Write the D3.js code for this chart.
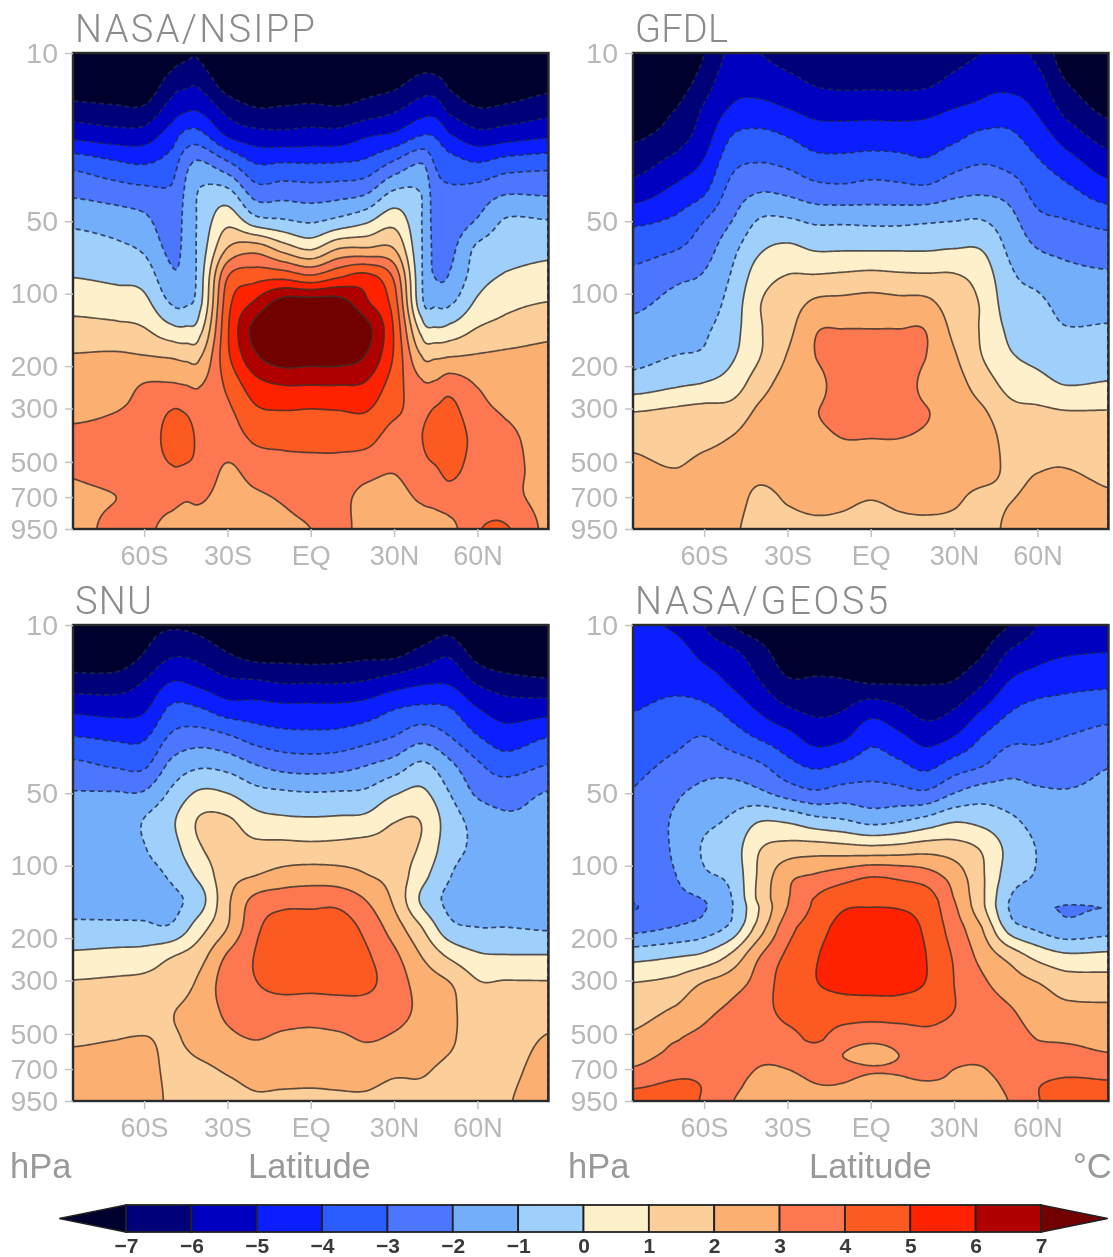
<!DOCTYPE html>
<html><head><meta charset="utf-8">
<script src="https://cdn.jsdelivr.net/npm/d3@7"></script>
<style>
html,body{margin:0;padding:0;background:#fff;overflow:hidden}
svg{display:block;font-family:"Liberation Sans",Arial,sans-serif;filter:blur(.7px)}
</style></head><body><div id="chart"></div>
<script>
// Temperature-change cross sections (degrees C).
// Each inner list is one latitude column, top (10 hPa) to bottom (950 hPa).
const latColumns=[-85.6,-70,-60,-50,-40,-30,-20,-10,0,10,20,30,40,50,60,70,85.6];
const nsippLats=[-85.6,-70,-60,-50,-45,-40,-30,-20,-10,0,10,20,30,40,45,50,60,70,85.6];
const pressureRows=[10,13,17,22,29,38,50,65,85,110,140,180,240,310,400,530,700,950];
const geosRows=[10,13,17,22,29,38,50,65,85,110,135,151,180,240,310,400,530,606,700,823,950];

const nsippValues=[
[-9,-8,-6.64,-5.28,-3.3,-2.2,-1.2,-.57,-.02,.67,1.34,2.04,2.44,2.8,3.2,3.1,2.8,2.6],
[-8.8,-7.9,-6.85,-5.55,-3.8,-2.5,-1.45,-.8,-.2,.5,1.25,2.1,2.55,3,3.3,3.4,3,3.3],
[-8.7,-8,-6.85,-5.5,-4,-2.7,-1.75,-1.15,-.4,.3,1.05,2,3.05,3.3,3.5,3.5,3.35,3.2],
[-7.6,-6.6,-5.6,-4.5,-3.5,-2.85,-2.6,-2.25,-1.8,-1.05,.25,1.85,3.1,4.05,4.3,3.95,3.3,2.7],
[-7.2,-6.3,-5.2,-3.7,-2.3,-1.85,-1.7,-1.7,-1.6,-1.1,.15,1.7,3,3.95,4.4,3.9,3.1,2.55],
[-7.2,-6.3,-5.2,-3.7,-1.8,-.9,-.75,-.6,-.45,-.25,.65,1.85,2.95,3.5,3.75,3.7,3.15,2.5],
[-8.8,-7.7,-6.35,-5.1,-2.75,-.7,.7,2.05,3.95,4.6,4.85,4.8,4.2,3.8,3.5,2.9,2.6,2.3],
[-8.6,-7.9,-6.95,-5.6,-3.95,-2.45,-.55,2.6,4.6,6.2,7.35,6.85,5.6,4.8,4.15,3.45,2.85,2.6],
[-8.7,-7.9,-6.9,-5.7,-3.9,-2.4,-.85,1.6,4.7,7.5,8,7.6,6,4.95,4.25,3.65,3.1,2.8],
[-8.8,-7.9,-6.8,-5.6,-3.95,-2.5,-1.1,.9,4.2,7.6,8,7.5,6,4.9,4.3,3.7,3.35,3],
[-8.7,-7.9,-6.9,-5.6,-3.9,-2.4,-.7,2,4.9,7.5,8,7.5,6,4.95,4.3,3.7,3.3,3.4],
[-8.6,-7.6,-6.6,-5.1,-3.7,-2.1,-.15,2.1,5.3,6.2,7.35,6.95,5.85,5,4.3,3.4,2.7,2.5],
[-8.4,-7.4,-6.2,-4.8,-2.75,-.85,.65,2,3.8,4.5,4.9,4.9,4.5,4.15,3.6,3.1,2.65,2.5],
[-7.8,-6.7,-5.5,-4,-1.95,-1.05,-1,-.95,-.9,-.7,.6,1.95,3.2,3.8,3.98,3.7,3.15,2.5],
[-7.9,-6.75,-5.5,-4.1,-3.1,-2.6,-2.4,-2.25,-2.05,-1.15,.1,1.8,3.2,4.15,4.45,3.95,3.3,2.6],
[-8,-7.3,-6.3,-4.9,-3.5,-2.85,-2.55,-2.25,-1.9,-1.1,.3,1.9,3.6,4.3,4.5,4.25,3.6,2.7],
[-8.7,-8,-6.95,-5.65,-3.9,-2.6,-1.9,-.8,-.45,.2,1.05,2.05,2.95,3.35,3.7,3.6,3.4,3.9],
[-8.7,-7.9,-6.8,-5.45,-3.5,-2.1,-.9,-.45,.1,.75,1.35,2.15,2.5,2.9,3.25,3.35,3.3,4.1],
[-8.6,-7.5,-6.4,-5.15,-3.3,-2.15,-.95,-.25,.35,1.05,1.7,2.25,2.4,2.5,2.55,2.6,2.65,2.75]];

const gfdlValues=[
[-9.5,-8.6,-7.9,-7.2,-6.4,-5.5,-4.2,-3.4,-2.75,-2.2,-1.75,-1.35,-.5,1,1.75,2.2,2.4,2.6],
[-8.8,-7.8,-7,-6.5,-5.6,-4.7,-3.8,-3.05,-2.2,-1.7,-1.4,-1,-.1,1.2,1.55,2,2.4,2.6],
[-7,-6.5,-5.9,-5.5,-4.85,-4.1,-3,-2.45,-1.9,-1.5,-1.15,-.85,.1,1.35,1.75,2.3,2.5,2.7],
[-5.8,-5.4,-4.9,-4,-3.25,-2.6,-2,-1.3,-.9,-.6,-.4,-.15,.5,1.4,2.05,2.4,2.4,2.2],
[-6,-5.4,-4.75,-3.75,-2.95,-2,-.9,-.15,.55,.95,.9,.95,1.6,2.2,2.5,2.3,1.8,1.6],
[-6.4,-5.75,-5,-4.05,-3.15,-2.15,-.85,.2,1.05,1.45,1.7,2.05,2.4,2.6,2.65,2.5,2.1,1.75],
[-6.7,-6.15,-5.35,-4.5,-3.6,-2.55,-1.15,-.1,1.1,2.2,2.9,3,2.66,2.95,2.75,2.55,2.25,1.85],
[-6.9,-6.3,-5.4,-4.55,-3.65,-2.65,-1.15,-.1,1.2,2.3,3,3.4,3.5,3.35,3,2.6,2.2,1.8],
[-6.9,-6.3,-5.35,-4.55,-3.5,-2.55,-1.2,-.1,1.3,2.4,3,3.5,3.6,3.4,3,2.6,2.05,1.6],
[-6.9,-6.3,-5.4,-4.55,-3.6,-2.6,-1.2,-.1,1.2,2.3,3,3.5,3.6,3.4,3,2.6,2.2,1.8],
[-6.85,-6.25,-5.3,-4.55,-3.8,-2.65,-1.1,-.1,1.15,2.25,2.95,3,2.72,3.05,2.85,2.6,2.25,1.85],
[-6.45,-5.75,-5,-4.25,-3.3,-2.25,-1,0,1.1,1.45,1.75,2.1,2.4,2.6,2.6,2.5,2.15,1.8],
[-6,-5.3,-4.8,-3.8,-3,-2.1,-.95,-.05,.6,.9,.9,1,1.55,2.15,2.5,2.4,1.8,1.6],
[-5.8,-5.35,-4.55,-3.85,-3.25,-2.35,-1.65,-1.2,-.8,-.55,-.2,.1,.7,1.3,1.65,1.85,1.95,2.2],
[-6.2,-5.7,-5.15,-4.5,-3.85,-3.35,-2.7,-2,-1.3,-.8,-.55,-.25,.35,1.2,1.6,1.95,2.2,2.4],
[-7.6,-7,-6.3,-5.45,-4.5,-3.7,-2.95,-2.25,-1.7,-1.3,-.95,-.5,0,1.05,1.55,2,2.4,2.4],
[-8.6,-7.9,-7.3,-6.45,-5.5,-4.5,-3.3,-2.5,-1.85,-1.35,-.9,-.45,.1,1.05,1.35,1.7,2.1,2.1]];

const snuValues=[
[-8.5,-7.8,-6.65,-5.3,-4,-2.8,-1.95,-1.75,-1.55,-1.35,-1.15,-.85,.25,1.1,1.45,1.9,2.3,2.5],
[-8.6,-7.9,-6.6,-5.45,-4.2,-3.15,-1.95,-1.8,-1.6,-1.4,-1.15,-.85,.4,1.18,1.6,2,2.35,2.5],
[-7.4,-7,-6,-5.2,-4.15,-3.2,-1.9,-.95,-1.05,-1.25,-1.15,-.85,.5,1.25,1.65,2.05,2.3,2.5],
[-7.1,-6.2,-5.05,-3.85,-2.85,-1.75,-.8,-.15,-.4,-.85,-1.2,-.85,1,1.45,1.95,1.9,1.8,1.8],
[-7.3,-6.35,-5.35,-4,-2.55,-1.2,.15,1.1,.9,.25,-.4,.55,1.65,2.2,2.4,2.3,1.85,1.6],
[-8,-7,-5.85,-4.6,-2.9,-1.4,0,1.15,1.4,1.6,1.8,2,3.15,3.5,3.2,2.75,2.1,1.7],
[-8.5,-7.5,-5.95,-4.65,-3.45,-2,-.65,.4,1.3,2,3.3,3.75,4.05,3.95,3.55,3,2.35,1.9],
[-8.6,-7.5,-6.15,-4.8,-3.7,-2.4,-.85,.2,1.35,2.35,3.65,4.5,4.8,4.3,3.5,2.8,2.35,1.85],
[-8.7,-7.6,-6.15,-4.8,-3.75,-2.5,-.95,.15,1.3,2.5,3.7,4.5,4.8,4.3,3.4,2.75,2.3,1.85],
[-8.6,-7.5,-6.15,-4.8,-3.7,-2.4,-.9,.2,1.35,2.4,3.7,4.5,4.8,4.3,3.55,2.8,2.3,1.9],
[-8.5,-7.35,-6,-4.6,-3.4,-2.05,-.8,.3,1.45,2.05,3,3.7,4.15,4.2,3.55,3.05,2.35,1.9],
[-8,-7.3,-5.6,-4.1,-3,-1.6,-.1,.95,1.35,1.6,1.85,2.5,3.25,3.5,3.3,2.85,2.15,1.75],
[-7.8,-6.7,-5.25,-3.85,-2.4,-.85,.2,.95,.85,.35,-.15,1,2,2.6,2.8,2.55,2.1,1.8],
[-7.4,-6.2,-5.2,-4,-3,-1.8,-1,-.5,-.6,-.95,-1.2,-.7,.9,2.05,2.25,2.15,1.8,1.6],
[-8.7,-7.5,-6.2,-5,-3.95,-2.85,-2.15,-1.35,-1.2,-1.4,-1.2,-1,.2,1.1,1.3,1.45,1.55,1.65],
[-8.8,-8,-6.65,-5.55,-4.55,-3.5,-2.4,-1.85,-1.65,-1.4,-1.2,-1,.1,1.1,1.3,1.5,1.7,1.9],
[-8.9,-8,-6.9,-5.5,-4.05,-3,-1.95,-1.8,-1.6,-1.4,-1.25,-1.1,.1,1.1,1.6,2.1,2.4,2.6]];

const geosValues=[
[-4.8,-4.5,-4.3,-4.05,-3.7,-3.3,-2.95,-2.85,-2.75,-2.7,-2.85,-3.05,-2.35,-.3,1.05,1.55,2.2,2.6,3.1,3.9,4.3],
[-5.15,-4.6,-4.25,-3.8,-3.3,-2.75,-2.15,-1.85,-1.85,-2,-2.2,-2.25,-1.95,0,1.35,2.15,2.95,3.25,3.7,4.15,4.3],
[-6,-5.3,-4.55,-3.85,-3,-2.35,-1.75,-1.25,-.9,-1.15,-1.9,-2.05,-1.55,.3,2.1,2.75,3.25,3.5,3.75,3.95,3.9],
[-7,-5.8,-5.2,-4.4,-3.55,-2.5,-1.55,-.85,-.5,-.7,-.98,-1.05,-.7,1.3,2.6,3.2,3.5,3.6,3.5,3.3,3.05],
[-7.6,-6.6,-6,-5.2,-4.15,-2.9,-1.8,-.05,.95,1.2,1.3,1.05,1.5,3,3.4,3.6,3.3,3.2,2.95,2.6,2.4],
[-8.3,-7.6,-6.9,-5.95,-4.7,-3.7,-2.4,-.15,1.4,2.7,2.9,3.05,3.6,4.2,4.5,4.3,3.65,3.25,3,2.6,2.4],
[-8.5,-7.6,-6.9,-6.25,-5.4,-4.2,-2.8,-.65,1.5,3.1,4,4.2,4.5,4.9,4.95,4.5,4.1,3.55,3.3,2.95,2.7],
[-8.5,-7.6,-6.95,-6.1,-5.2,-3.9,-2.55,-.9,1.4,3.5,4.55,4.95,5.35,5.7,5.25,4.5,3.5,3,3.2,2.95,2.7],
[-8.5,-7.9,-7.15,-5.5,-4.35,-3.5,-2.6,-1.3,1.3,3.9,4.65,5.05,5.5,5.8,5.3,4.5,3.2,2.7,3.05,2.7,2.4],
[-8.5,-7.8,-7.15,-5.9,-4.8,-3.8,-2.65,-1.1,1.4,3.75,4.5,5,5.5,5.8,5.3,4.5,3.4,3,3.1,2.75,2.5],
[-8.5,-7.8,-7.1,-6.45,-5.4,-4.3,-2.8,-.65,1.6,3.4,4.4,4.6,4.8,5,4.95,4.35,3.75,3.5,3.35,2.85,2.55],
[-8.2,-7.6,-7,-6.05,-5,-3.6,-2,-.1,1.45,2.55,2.95,3.2,3.5,3.9,4,4,3.6,3.3,3,2.85,2.7],
[-7.6,-7.1,-6.2,-5.1,-4,-3.1,-1.5,-.3,.9,1.15,1.2,1.3,2,2.7,3.2,3.5,3.4,3.2,2.95,2.6,2.35],
[-7,-5.9,-5,-4.15,-3.3,-2.4,-1.6,-.8,-.3,-.5,-.95,-1.05,-.45,1.7,2.5,3.1,3.4,3.5,3.45,3.25,3.05],
[-6,-5.35,-4.6,-3.75,-3.2,-2.5,-1.85,-1.35,-1.05,-1.1,-1.5,-1.85,-1.2,.75,2.05,2.5,3,3.3,3.6,3.95,3.95],
[-5.7,-5.1,-4.35,-3.65,-3,-2.4,-1.95,-1.8,-1.75,-1.75,-1.85,-2.02,-1.7,.25,1.55,2.25,2.9,3.25,3.75,4.2,4.25],
[-5.7,-5,-4.25,-3.45,-2.7,-2.05,-1.85,-1.75,-1.75,-1.7,-1.75,-1.99,-1.45,.3,1.45,2.2,2.75,3.05,3.7,4.1,4.1]];

const contourLevels=[-7,-6,-5,-4,-3,-2,-1,0,1,2,3,4,5,6,7];
const bandColors=["#00002e","#000078","#0000c0","#0a1eff","#2a5cff","#4d76ff","#72aefa","#9fd0fb","#fdf0cb","#fccf9a","#fbb072","#fd7850","#fd5a22","#ff2200","#b00000","#730000"];
const panelNames=["NASA/NSIPP","GFDL","SNU","NASA/GEOS5"];
const titleWidths=[240,93,77,253];
const yTickValues=[10,50,100,200,300,500,700,950];
const xTickValues=[-60,-30,0,30,60];
const xTickLabels=["60S","30S","EQ","30N","60N"];

const W=1113,H=1257,pw=475.5,ph=476,step=2;
const svg=d3.select("#chart").append("svg").attr("width",W).attr("height",H);
const xS=d3.scaleLinear().domain([-85.6,85.6]).range([0,pw]);
const yS=d3.scaleLog().domain([10,950]).range([0,ph]);

function cr(a,b,c,d,t){return .5*(2*b+(c-a)*t+(2*a-5*b+4*c-d)*t*t+(3*b-a-3*c+d)*t*t*t);}
function fractional(list,v){
  let i=d3.bisectRight(list,v)-1;
  i=Math.max(0,Math.min(list.length-2,i));
  return [i,Math.max(0,Math.min(1,(v-list[i])/(list[i+1]-list[i])))];
}
// Smooth the read-off grid for the contour tracer (the drawing's equivalent of a curve).
function sampleField(cols,lats,rows){
  const nx=Math.ceil(pw/step),ny=Math.ceil(ph/step),out=new Float64Array(nx*ny);
  const logRows=rows.map(Math.log);
  const C=cols.length,R=rows.length;
  for(let j=0;j<ny;j++){
    const [r,tr]=fractional(logRows,Math.log(yS.invert((j+.5)*ph/ny)));
    for(let i=0;i<nx;i++){
      const [c,tc]=fractional(lats,xS.invert((i+.5)*pw/nx));
      const vs=[-1,0,1,2].map(dc=>{
        const col=cols[Math.max(0,Math.min(C-1,c+dc))];
        return cr(col[Math.max(0,r-1)],col[r],col[r+1],col[Math.min(R-1,r+2)],tr);
      });
      out[i+j*nx]=cr(vs[0],vs[1],vs[2],vs[3],tc);
    }
  }
  return {nx,ny,out};
}

function drawPanel(name,cols,lats,rows,px,py,idx){
  const g=svg.append("g").attr("transform",`translate(${px},${py})`);
  const clipId="clip"+idx;
  g.append("clipPath").attr("id",clipId).append("rect").attr("width",pw).attr("height",ph);
  const body=g.append("g").attr("clip-path",`url(#${clipId})`);
  body.append("rect").attr("width",pw).attr("height",ph).attr("fill",bandColors[0]);
  const {nx,ny,out}=sampleField(cols,lats,rows);
  const polys=d3.contours().size([nx,ny]).smooth(true).thresholds(contourLevels)(out);
  const path=d3.geoPath(d3.geoTransform({point(x,y){this.stream.point(x*pw/nx,y*ph/ny);}}));
  body.selectAll("path.fill").data(polys).join("path").attr("class","fill")
    .attr("d",path).attr("fill",(d,i)=>bandColors[i+1]);
  body.selectAll("path.line").data(polys).join("path").attr("class","line")
    .attr("d",path).attr("fill","none")
    .attr("stroke",d=>d.value<0?"#1c2a4a":"#3a2f2a")
    .attr("stroke-opacity",.82)
    .attr("stroke-width",1.7)
    .attr("stroke-dasharray",d=>d.value<0?"5 3.5":null);
  g.append("rect").attr("width",pw).attr("height",ph).attr("fill","none").attr("stroke","#2b2b2b").attr("stroke-width",2.4);

  const yA=g.append("g").call(d3.axisLeft(yS).tickValues(yTickValues).tickFormat(d3.format("d")).tickSize(8).tickPadding(7));
  const xA=g.append("g").attr("transform",`translate(0,${ph})`)
    .call(d3.axisBottom(xS).tickValues(xTickValues).tickFormat((d,i)=>xTickLabels[i]).tickSize(8).tickPadding(9));
  [yA,xA].forEach((a,k)=>{
    a.select(".domain").remove();
    a.selectAll("line").attr("stroke","#c4c4c4").attr("stroke-width",1.5);
    a.selectAll("text").attr("fill","#b8b8b8").attr("font-size",k?27:28.5)
      .attr("font-family","Liberation Sans");
  });
  g.append("text").attr("x",2).attr("y",-11).text(name).attr("fill","#8c8c8c")
    .attr("font-family","Roboto").attr("font-weight",300).attr("font-size",38)
    .attr("textLength",titleWidths[idx]).attr("lengthAdjust","spacing");
}
const panelData=[[nsippValues,nsippLats,pressureRows],[gfdlValues,latColumns,pressureRows],[snuValues,latColumns,pressureRows],[geosValues,latColumns,geosRows]];
const panelOrigins=[[73,53],[633,53],[73,625],[633,625]];
panelNames.forEach((n,i)=>drawPanel(n,panelData[i][0],panelData[i][1],panelData[i][2],panelOrigins[i][0],panelOrigins[i][1],i));

// bottom captions
[["hPa",10],["Latitude",248],["hPa",568],["Latitude",809],["°C",1073]].forEach(([t,x])=>{
  svg.append("text").attr("x",x).attr("y",1178).text(t).attr("fill","#999").attr("font-size",34.5);
});

// colour key
const keyS=d3.scaleLinear().domain([-7,7]).range([126,1041]);
const keyTop=1205,keyBot=1232,keyMid=(keyTop+keyBot)/2;
const key=svg.append("g");
const lowEnd=keyS(-7)-(keyS(-6)-keyS(-7))*1.02,highEnd=keyS(7)+(keyS(-6)-keyS(-7))*1.02;
key.append("path").attr("d",`M${keyS(-7)},${keyTop}L${lowEnd},${keyMid}L${keyS(-7)},${keyBot}Z`).attr("fill",bandColors[0]).attr("stroke","#222").attr("stroke-width",1.6);
key.append("path").attr("d",`M${keyS(7)},${keyTop}L${highEnd},${keyMid}L${keyS(7)},${keyBot}Z`).attr("fill",bandColors[15]).attr("stroke","#222").attr("stroke-width",1.6);
key.selectAll("rect").data(d3.pairs(contourLevels)).join("rect")
  .attr("x",d=>keyS(d[0])).attr("width",d=>keyS(d[1])-keyS(d[0]))
  .attr("y",keyTop).attr("height",keyBot-keyTop)
  .attr("fill",(d,i)=>bandColors[i+1]).attr("stroke","#222").attr("stroke-width",1.8);
const keyAxis=key.append("g").attr("transform",`translate(0,${keyBot})`)
  .call(d3.axisBottom(keyS).tickValues(contourLevels).tickFormat(d=>d<0?"\u2212"+(-d):d).tickSize(0).tickPadding(6));
keyAxis.select(".domain").remove();
keyAxis.selectAll("text").attr("fill","#3a3a3a").attr("font-size",21).attr("font-weight",700)
  .attr("font-family","Liberation Sans");
</script></body></html>
